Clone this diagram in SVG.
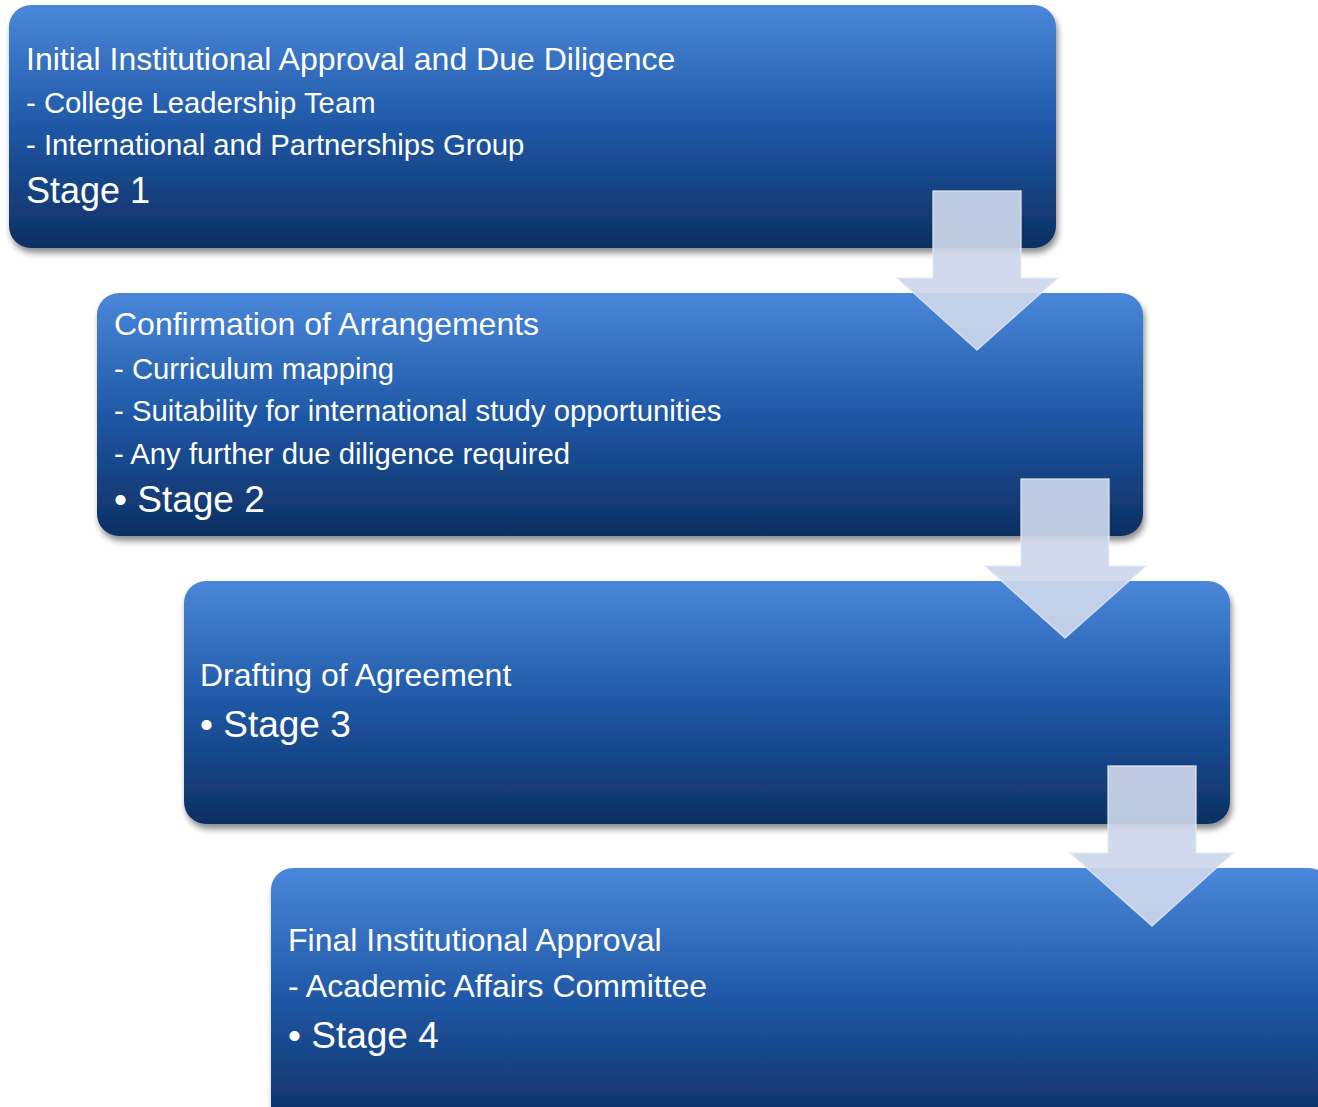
<svg xmlns="http://www.w3.org/2000/svg" width="1318" height="1107" viewBox="0 0 1318 1107">
<defs>
<linearGradient id="g" x1="0" y1="0" x2="0" y2="1">
<stop offset="0" stop-color="#4a87da"/>
<stop offset="0.5" stop-color="#1f58a6"/>
<stop offset="1" stop-color="#0d2f62"/>
</linearGradient>
<filter id="sh" x="-5%" y="-10%" width="110%" height="130%">
<feGaussianBlur in="SourceAlpha" stdDeviation="3"/>
<feOffset dx="2" dy="5"/>
<feComponentTransfer><feFuncA type="linear" slope="0.45"/></feComponentTransfer>
<feMerge><feMergeNode/><feMergeNode in="SourceGraphic"/></feMerge>
</filter>
<style>
.box{fill:url(#g);filter:url(#sh);}
.t{font-family:"Liberation Sans",Arial,sans-serif;fill:#ffffff;}
.h{font-size:32px;}
.s{font-size:29.3px;}
.s2{font-size:32px;}
.st{font-size:37px;}
.arr{fill:#cdd7ea;fill-opacity:0.92;stroke:#e3e9f3;stroke-width:1.5;stroke-opacity:0.8;}
</style>
</defs>
<g id="stage1">
<rect class="box" x="9" y="5" width="1047" height="243" rx="22"/>
<text class="t h" x="26" y="70">Initial Institutional Approval and Due Diligence</text>
<text class="t s" x="26" y="113">- College Leadership Team</text>
<text class="t s" x="26" y="155">- International and Partnerships Group</text>
<text class="t st" x="26" y="203" style="font-size:36px">Stage 1</text>
</g>
<g id="stage2">
<rect class="box" x="97" y="293" width="1046" height="243" rx="22"/>
<text class="t h" x="114" y="335">Confirmation of Arrangements</text>
<text class="t s" x="114" y="379">- Curriculum mapping</text>
<text class="t s" x="114" y="421">- Suitability for international study opportunities</text>
<text class="t s" x="114" y="464">- Any further due diligence required</text>
<text class="t st" x="114" y="512">• Stage 2</text>
</g>
<g id="stage3">
<rect class="box" x="184" y="581" width="1046" height="243" rx="22"/>
<text class="t h" x="200" y="686">Drafting of Agreement</text>
<text class="t st" x="200" y="737">• Stage 3</text>
</g>
<g id="stage4">
<rect class="box" x="271" y="868" width="1060" height="260" rx="22"/>
<text class="t h" x="288" y="951">Final Institutional Approval</text>
<text class="t s2" x="288" y="997">- Academic Affairs Committee</text>
<text class="t st" x="288" y="1048">• Stage 4</text>
</g>
<g id="connectors">
<polygon class="arr" points="933,191 1021,191 1021,278 1058,278 977,350 897,278 933,278"/>
<polygon class="arr" points="1021,479 1109,479 1109,566 1146,566 1065,638 985,566 1021,566"/>
<polygon class="arr" points="1108,766 1196,766 1196,853 1233,853 1152,926 1070,853 1108,853"/>
</g>
</svg>
